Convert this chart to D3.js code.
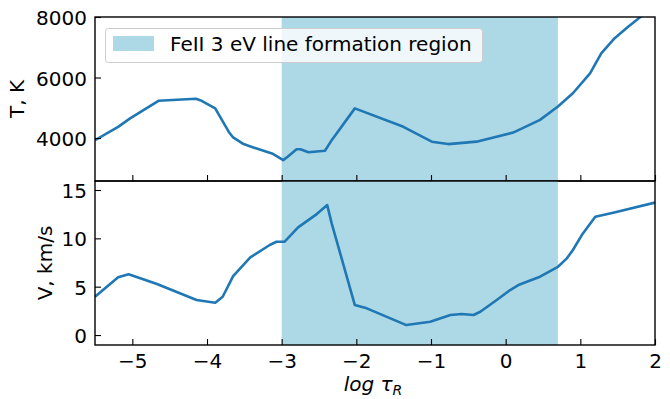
<!DOCTYPE html>
<html>
<head>
<meta charset="utf-8">
<script src="https://cdn.jsdelivr.net/npm/d3@7"></script>
<style>
  body { margin: 0; background: #fff; }
  text { font-family: "DejaVu Sans", sans-serif; fill: #000; }
</style>
</head>
<body>
<svg id="chart" width="670" height="399"></svg>
<script>
// log tau_R grid points
const tauT = [-5.5, -5.19, -5.03, -4.65, -4.15, -4.09, -3.89, -3.71, -3.65, -3.51, -3.38, -3.13, -3.05, -2.98, -2.92, -2.80, -2.75, -2.64, -2.42, -2.33, -2.02, -1.37, -0.99, -0.77, -0.39, 0.10, 0.46, 0.70, 0.90, 1.13, 1.28, 1.46, 1.64, 1.80, 2.0];
const temp = [3930, 4370, 4650, 5230, 5300, 5250, 4980, 4210, 4020, 3800, 3690, 3490, 3380, 3270, 3380, 3630, 3630, 3530, 3580, 3930, 4980, 4370, 3880, 3800, 3880, 4180, 4600, 5040, 5480, 6140, 6800, 7300, 7680, 7990, 8350];

const tauV = [-5.5, -5.19, -5.05, -4.67, -4.14, -3.89, -3.79, -3.65, -3.42, -3.16, -3.07, -2.96, -2.78, -2.53, -2.39, -2.33, -2.02, -1.86, -1.33, -1.01, -0.74, -0.59, -0.43, -0.34, -0.12, 0.06, 0.17, 0.46, 0.70, 0.82, 0.90, 1.02, 1.20, 1.44, 2.0];
const vel = [3.96, 5.97, 6.28, 5.27, 3.62, 3.34, 3.96, 6.1, 8.03, 9.31, 9.65, 9.65, 11.14, 12.51, 13.44, 11.55, 3.1, 2.76, 1.03, 1.38, 2.07, 2.17, 2.07, 2.41, 3.62, 4.65, 5.17, 6.03, 7.06, 7.93, 8.79, 10.34, 12.23, 12.65, 13.7];

const region = [-3.0, 0.7];
const xTicks = [-5, -4, -3, -2, -1, 0, 1, 2];
const tTicks = [4000, 6000, 8000];
const vTicks = [0, 5, 10, 15];
const legendLabel = "FeII 3 eV line formation region";

const svg = d3.select("#chart");
const mLeft = 95, mRight = 655, mTop = 17, mMid = 181, mBottom = 345;
const fs = 20;
const fmt = d => String(d).replace("-", "\u2212");

const x = d3.scaleLinear().domain([-5.5, 2]).range([mLeft, mRight]);
const yT = d3.scaleLinear().domain([2580, 8000]).range([mMid, mTop]);
const yV = d3.scaleLinear().domain([-1.03, 15.93]).range([mBottom, mMid]);

const line = (xs, ys, sy) => d3.line()
  .x((d, i) => x(xs[i]))
  .y(d => sy(d))(ys);

function panel(sy, xs, ys, yticks, ylab, ylabX, showX, id) {
  const y0 = sy.range()[0], y1 = sy.range()[1];
  svg.append("clipPath").attr("id", id).append("rect")
    .attr("x", mLeft).attr("y", y1).attr("width", mRight - mLeft).attr("height", y0 - y1);
  const g = svg.append("g").attr("clip-path", `url(#${id})`);
  g.append("rect")
    .attr("x", x(region[0])).attr("y", y1)
    .attr("width", x(region[1]) - x(region[0])).attr("height", y0 - y1)
    .attr("fill", "#add8e6");
  g.append("path").attr("d", line(xs, ys, sy))
    .attr("fill", "none").attr("stroke", "#1f77b4")
    .attr("stroke-width", 2.6).attr("stroke-linejoin", "round");

  // axes, ticks inward
  const ay = svg.append("g").attr("transform", `translate(${mLeft},0)`)
    .call(d3.axisLeft(sy).tickValues(yticks).tickSize(-6).tickPadding(8).tickFormat(fmt));
  const ax = svg.append("g").attr("transform", `translate(0,${y0})`)
    .call(d3.axisBottom(x).tickValues(xTicks).tickSize(-6).tickPadding(9)
      .tickFormat(d => showX ? fmt(d) : ""));
  [ay, ax].forEach(a => {
    a.select(".domain").remove();
    a.selectAll("line").attr("stroke", "#000").attr("stroke-width", 1.1);
    a.selectAll("text").style("font-size", fs + "px").attr("fill", "#000")
      .style("font-family", "DejaVu Sans");
  });
  ay.selectAll("text").attr("dy", "0.38em");
  svg.append("rect").attr("x", mLeft).attr("y", y1)
    .attr("width", mRight - mLeft).attr("height", y0 - y1)
    .attr("fill", "none").attr("stroke", "#000").attr("stroke-width", 1.4);
  svg.append("text")
    .attr("transform", `translate(${ylabX},${(y0 + y1) / 2}) rotate(-90)`)
    .attr("text-anchor", "middle").style("font-size", fs + "px").text(ylab);
}

panel(yT, tauT, temp, tTicks, "T, K", 24, false, "clipT");
panel(yV, tauV, vel, vTicks, "V, km/s", 52, true, "clipV");

// x label
const xl = svg.append("text").attr("x", 373).attr("y", 391)
  .attr("text-anchor", "middle").style("font-size", fs + "px").style("font-style", "italic");
xl.append("tspan").text("log τ");
xl.append("tspan").attr("dy", 4).style("font-size", "14px").text("R");

// legend
const lg = svg.append("g");
lg.append("rect").attr("x", 105.5).attr("y", 28.5).attr("width", 377).attr("height", 34)
  .attr("rx", 3).attr("fill", "#fff").attr("fill-opacity", 0.8)
  .attr("stroke", "#ccc").attr("stroke-width", 1);
lg.append("rect").attr("x", 113).attr("y", 36).attr("width", 41).attr("height", 15).attr("fill", "#add8e6");
lg.append("text").attr("x", 170).attr("y", 51).style("font-size", fs + "px").text(legendLabel);
</script>
</body>
</html>
